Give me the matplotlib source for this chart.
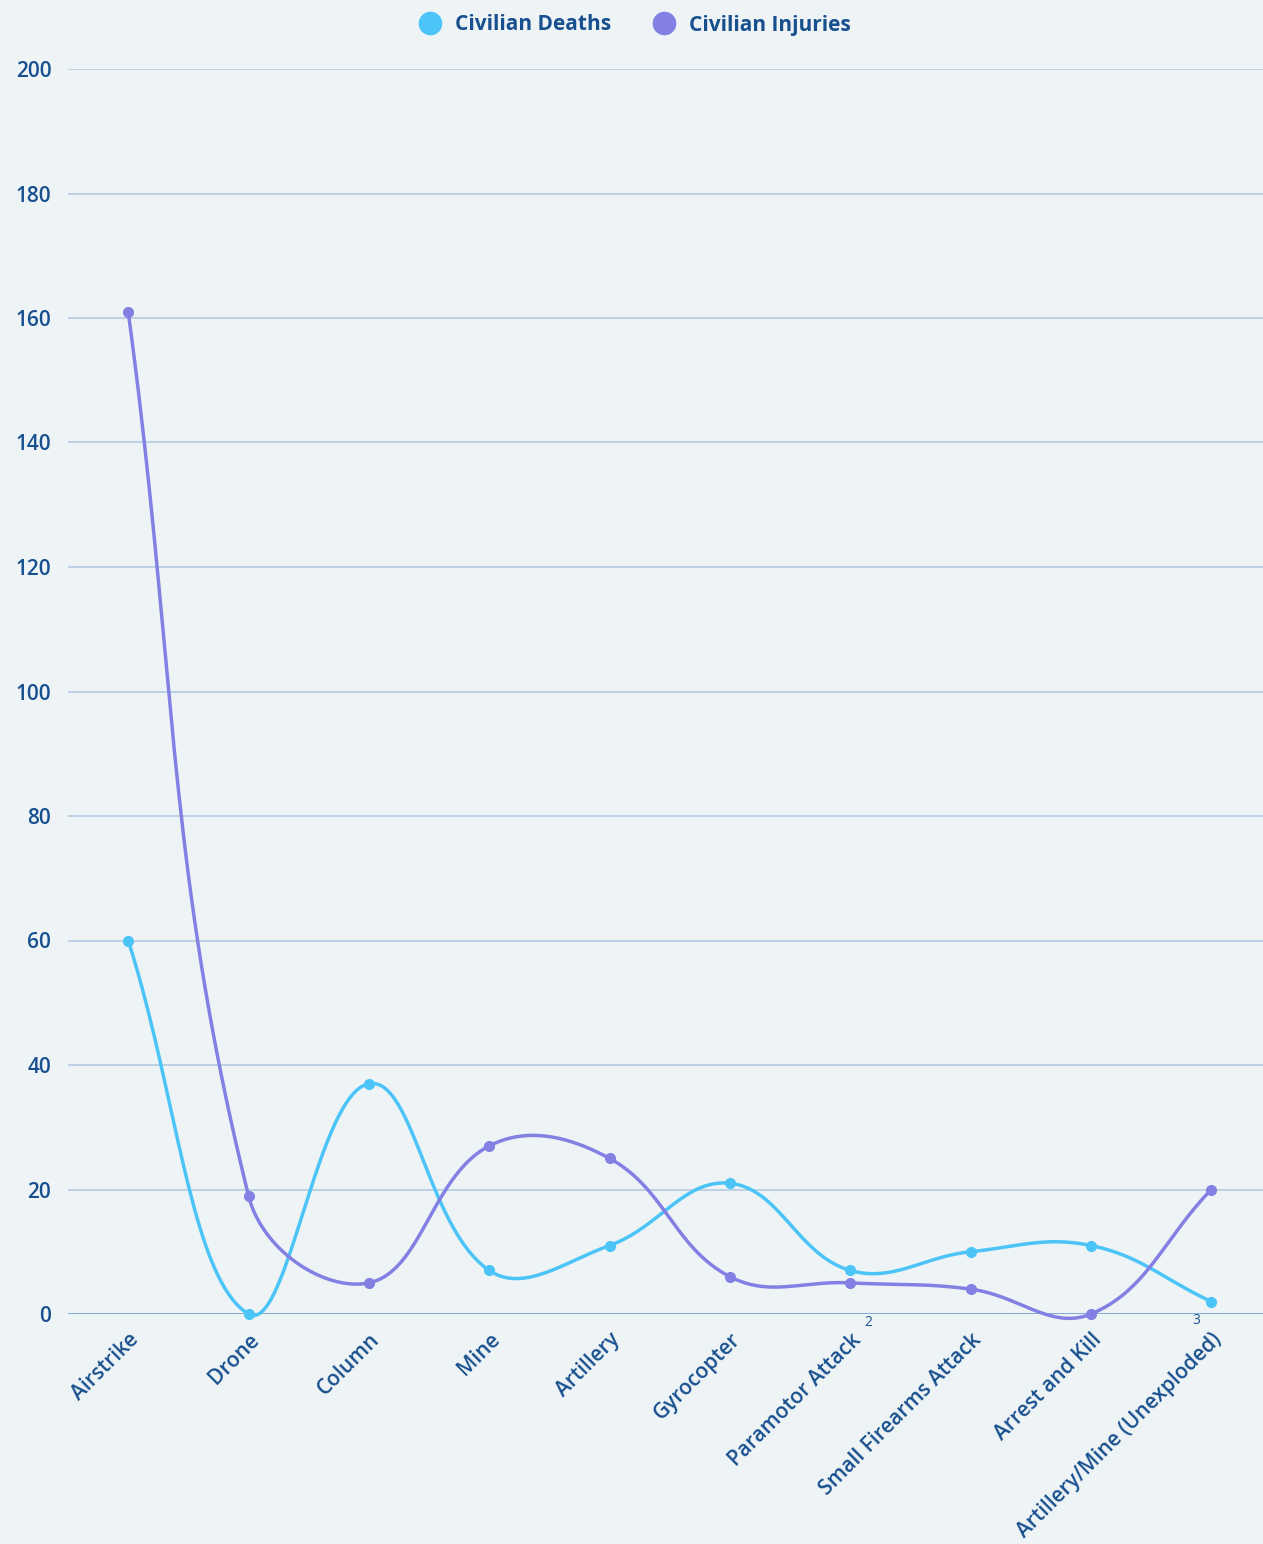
import numpy as np
import matplotlib
matplotlib.use('Agg')
import matplotlib.pyplot as plt
from matplotlib.lines import Line2D

plt.rcParams['font.family'] = ['Open Sans', 'DejaVu Sans']

categories = ['Airstrike', 'Drone', 'Column', 'Mine', 'Artillery', 'Gyrocopter',
              'Paramotor Attack', 'Small Firearms Attack', 'Arrest and Kill',
              'Artillery/Mine (Unexploded)']
deaths = [60, 0, 37, 7, 11, 21, 7, 10, 11, 2]
injuries = [161, 19, 5, 27, 25, 6, 5, 4, 0, 20]
y_ticks = [0, 20, 40, 60, 80, 100, 120, 140, 160, 180, 200]

BG = '#eef4f5'
TEXT = '#18508f'
C_DEATH = '#4cc4f8'
C_INJ = '#8380e4'

# pixel scale of one unit on each axis, used for the spline shape
PX_X = 120.3
PX_Y = 6.225


def smooth(ys, tension=0.4, n=40):
    # chart.js style bezier spline through points, computed in pixel space
    xs = np.arange(len(ys), dtype=float) * PX_X
    ys = np.asarray(ys, dtype=float) * PX_Y
    pts = np.column_stack([xs, ys])
    cp_prev, cp_next = [], []
    for i in range(len(pts)):
        p1 = pts[i]
        p0 = pts[i - 1] if i > 0 else p1
        p2 = pts[i + 1] if i < len(pts) - 1 else p1
        d01 = np.hypot(*(p1 - p0))
        d12 = np.hypot(*(p2 - p1))
        tot = d01 + d12
        s01 = d01 / tot if tot else 0
        s12 = d12 / tot if tot else 0
        cp_prev.append(p1 - tension * s01 * (p2 - p0))
        cp_next.append(p1 + tension * s12 * (p2 - p0))
    out = []
    t = np.linspace(0, 1, n)[:, None]
    for i in range(len(pts) - 1):
        a, b, c, d = pts[i], cp_next[i], cp_prev[i + 1], pts[i + 1]
        seg = ((1 - t) ** 3) * a + 3 * ((1 - t) ** 2) * t * b + 3 * (1 - t) * t ** 2 * c + t ** 3 * d
        out.append(seg)
    out = np.vstack(out)
    return out[:, 0] / PX_X, out[:, 1] / PX_Y


fig = plt.figure(figsize=(12.63, 15.44), dpi=100, facecolor=BG)
ax = fig.add_axes([68 / 1263, 1 - 1314 / 1544, 1 - 68 / 1263, (1314 - 69) / 1544])
ax.set_facecolor(BG)

x = np.arange(len(categories))
for vals, color in [(deaths, C_DEATH), (injuries, C_INJ)]:
    sx, sy = smooth(vals)
    ax.plot(sx, sy, color=color, lw=2.5, clip_on=False, zorder=3)
    ax.plot(x, vals, 'o', color=color, ms=7, clip_on=False, zorder=4)

ax.set_xlim(-0.5, 9.43)
ax.set_ylim(0, 200)
ax.set_yticks(y_ticks)
ax.set_yticklabels([str(v) for v in y_ticks], fontsize=15, fontweight='semibold', color=TEXT)
ax.set_xticks(x)
ax.set_xticklabels(categories, rotation=45, ha='right', va='top', rotation_mode='anchor',
                   fontsize=15, fontweight='semibold', color=TEXT)
ax.tick_params(axis='both', length=0)
ax.tick_params(axis='y', pad=12)
ax.tick_params(axis='x', pad=11)

for v in y_ticks:
    if v == 0:
        ax.axhline(v, color='#5f95cc', lw=1.8, zorder=1)
    else:
        ax.axhline(v, color='#b3cbe0', lw=1.2, zorder=1)

for s in ax.spines.values():
    s.set_visible(False)

# small footnote markers under the axis
fig.text(868 / 1263, 1 - 1322 / 1544, '2', fontsize=10, color=TEXT, ha='center', va='center')
fig.text(1196 / 1263, 1 - 1320 / 1544, '3', fontsize=10, color=TEXT, ha='center', va='center')

handles = [Line2D([], [], marker='o', ls='', color=C_DEATH, ms=16, label='Civilian Deaths'),
           Line2D([], [], marker='o', ls='', color=C_INJ, ms=16, label='Civilian Injuries')]
fig.legend(handles=handles, loc='center', bbox_to_anchor=(630 / 1263, 1 - 25 / 1544), ncol=2,
           frameon=False, handletextpad=0.2, columnspacing=1.5,
           prop={'size': 15, 'weight': 'bold'}, labelcolor=TEXT)

fig.savefig('out.png', dpi=100, facecolor=BG)
